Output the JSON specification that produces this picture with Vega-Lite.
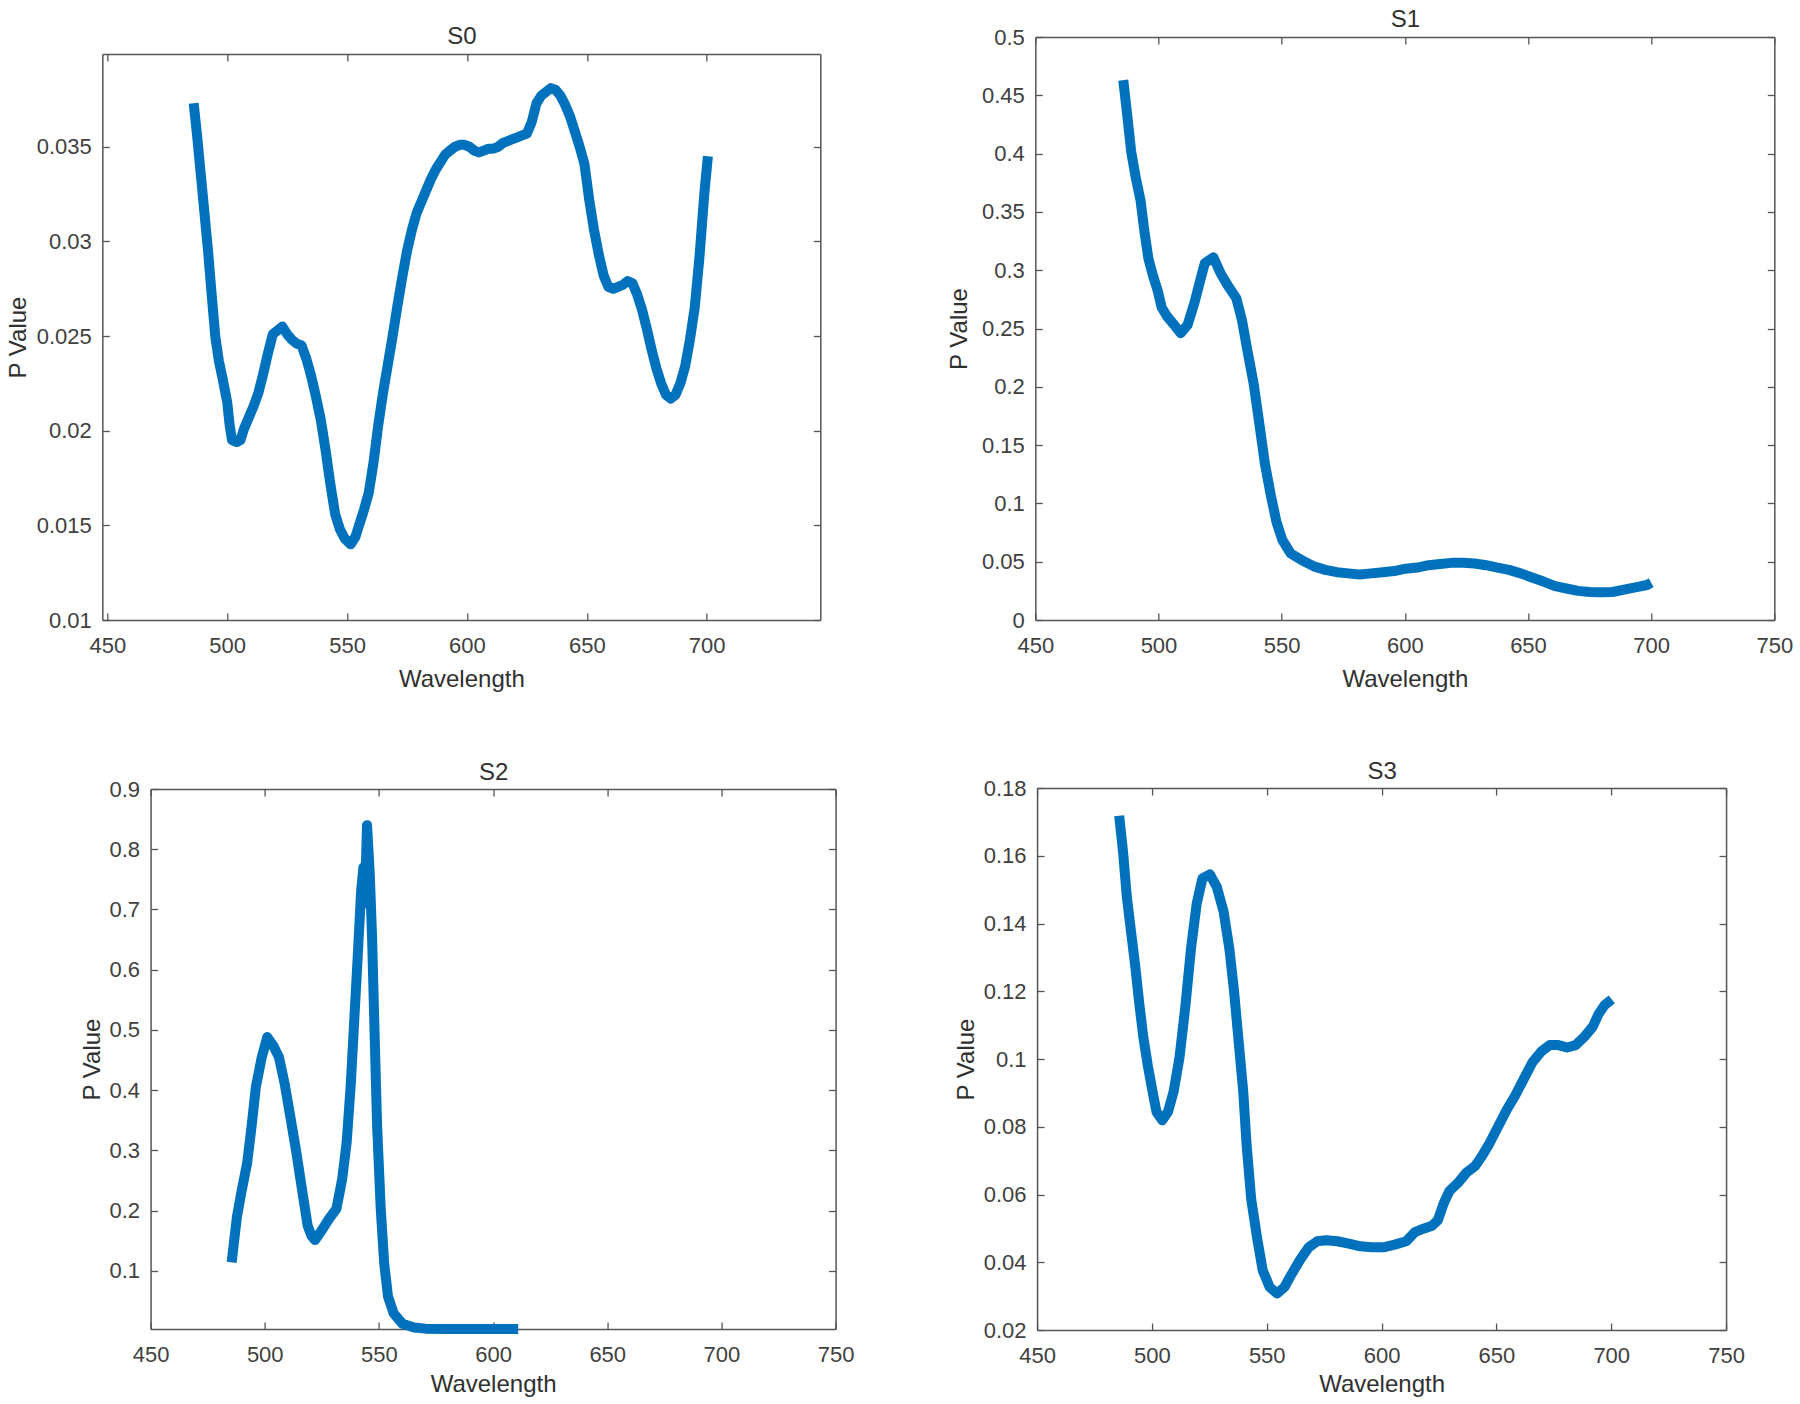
{
  "$schema": "https://vega.github.io/schema/vega-lite/v6.json",
  "padding": {"left": 0, "top": 5, "right": 0, "bottom": 0},
  "background": "white",
  "datasets": {
    "s0": [
      {"w":486,"p":0.0373},{"w":487.5,"p":0.0355},{"w":489,"p":0.0335},{"w":490.5,"p":0.0315},{"w":492,"p":0.0295},{"w":493.5,"p":0.0272},{"w":495,"p":0.025},{"w":496.5,"p":0.0237},{"w":498,"p":0.0228},{"w":500,"p":0.0215},{"w":501,"p":0.0203},{"w":502,"p":0.0195},{"w":504,"p":0.0194},{"w":505.5,"p":0.0195},{"w":507,"p":0.0201},{"w":509,"p":0.0207},{"w":511,"p":0.0213},{"w":513,"p":0.022},{"w":515,"p":0.023},{"w":517,"p":0.0241},{"w":519,"p":0.0251},{"w":521,"p":0.0253},{"w":523,"p":0.0255},{"w":525,"p":0.0251},{"w":527,"p":0.0248},{"w":529,"p":0.0246},{"w":531,"p":0.0245},{"w":533,"p":0.0238},{"w":535,"p":0.0229},{"w":537,"p":0.0218},{"w":539,"p":0.0206},{"w":541,"p":0.019},{"w":543,"p":0.0172},{"w":545,"p":0.0156},{"w":547,"p":0.0148},{"w":549,"p":0.0143},{"w":551.5,"p":0.014},{"w":553.5,"p":0.0144},{"w":555,"p":0.015},{"w":557,"p":0.0158},{"w":559,"p":0.0167},{"w":561,"p":0.0183},{"w":563,"p":0.0203},{"w":565,"p":0.022},{"w":567,"p":0.0235},{"w":569,"p":0.025},{"w":571,"p":0.0266},{"w":573,"p":0.0281},{"w":575,"p":0.0295},{"w":577,"p":0.0306},{"w":579,"p":0.0315},{"w":581,"p":0.0321},{"w":583,"p":0.0327},{"w":585,"p":0.0333},{"w":587,"p":0.0338},{"w":589,"p":0.0342},{"w":591,"p":0.0346},{"w":593,"p":0.0348},{"w":595,"p":0.035},{"w":597,"p":0.0351},{"w":599,"p":0.0351},{"w":601,"p":0.035},{"w":603,"p":0.0348},{"w":605,"p":0.0347},{"w":607,"p":0.0348},{"w":609,"p":0.0349},{"w":611,"p":0.0349},{"w":613,"p":0.035},{"w":615,"p":0.0352},{"w":617,"p":0.0353},{"w":619,"p":0.0354},{"w":621,"p":0.0355},{"w":623,"p":0.0356},{"w":625,"p":0.0357},{"w":627,"p":0.0363},{"w":629,"p":0.0373},{"w":631,"p":0.0377},{"w":633,"p":0.0379},{"w":635,"p":0.0381},{"w":637,"p":0.038},{"w":639,"p":0.0377},{"w":641,"p":0.0372},{"w":643,"p":0.0366},{"w":645,"p":0.0358},{"w":647,"p":0.035},{"w":649,"p":0.0341},{"w":651,"p":0.0322},{"w":653,"p":0.0306},{"w":655,"p":0.0293},{"w":657,"p":0.0282},{"w":659,"p":0.0276},{"w":661,"p":0.0275},{"w":663,"p":0.0276},{"w":665,"p":0.0277},{"w":667,"p":0.0279},{"w":669,"p":0.0278},{"w":671,"p":0.0272},{"w":673,"p":0.0264},{"w":675,"p":0.0254},{"w":677,"p":0.0243},{"w":679,"p":0.0233},{"w":681,"p":0.0225},{"w":683,"p":0.0219},{"w":685,"p":0.0217},{"w":687,"p":0.0219},{"w":689,"p":0.0225},{"w":691,"p":0.0234},{"w":693,"p":0.0248},{"w":695,"p":0.0265},{"w":697,"p":0.0292},{"w":699,"p":0.0325},{"w":700.5,"p":0.0345}
    ],
    "s1": [
      {"w":485.7,"p":0.463},{"w":487.3,"p":0.433},{"w":488.9,"p":0.402},{"w":490.8,"p":0.379},{"w":492.7,"p":0.36},{"w":494.3,"p":0.333},{"w":495.9,"p":0.31},{"w":497.8,"p":0.295},{"w":499.6,"p":0.283},{"w":501.3,"p":0.268},{"w":503.6,"p":0.26},{"w":506.4,"p":0.253},{"w":509,"p":0.246},{"w":511.8,"p":0.253},{"w":514.6,"p":0.272},{"w":516.9,"p":0.291},{"w":518.8,"p":0.306},{"w":522.3,"p":0.311},{"w":525.3,"p":0.297},{"w":528.1,"p":0.287},{"w":531.6,"p":0.276},{"w":533.9,"p":0.257},{"w":536.2,"p":0.23},{"w":538.6,"p":0.203},{"w":540.9,"p":0.169},{"w":543.2,"p":0.134},{"w":545.6,"p":0.107},{"w":547.9,"p":0.084},{"w":550.2,"p":0.069},{"w":553.7,"p":0.057},{"w":558.4,"p":0.051},{"w":563.1,"p":0.046},{"w":567.7,"p":0.043},{"w":572.4,"p":0.041},{"w":577,"p":0.04},{"w":581.7,"p":0.039},{"w":586.4,"p":0.04},{"w":591,"p":0.041},{"w":595.7,"p":0.042},{"w":600.3,"p":0.044},{"w":605,"p":0.045},{"w":609.7,"p":0.047},{"w":614.3,"p":0.048},{"w":619,"p":0.049},{"w":623.7,"p":0.049},{"w":628.3,"p":0.0485},{"w":633,"p":0.047},{"w":637.6,"p":0.045},{"w":642.3,"p":0.043},{"w":647,"p":0.04},{"w":651.6,"p":0.0365},{"w":656.3,"p":0.033},{"w":661,"p":0.029},{"w":665.6,"p":0.027},{"w":670.3,"p":0.025},{"w":675,"p":0.024},{"w":679.6,"p":0.0237},{"w":684.3,"p":0.024},{"w":689,"p":0.026},{"w":693.6,"p":0.028},{"w":698.3,"p":0.03},{"w":700,"p":0.032}
    ],
    "s2": [
      {"w":485.5,"p":0.114},{"w":487.8,"p":0.189},{"w":489.8,"p":0.231},{"w":492.3,"p":0.279},{"w":494.3,"p":0.342},{"w":496.1,"p":0.405},{"w":498.6,"p":0.453},{"w":501.1,"p":0.488},{"w":503.7,"p":0.474},{"w":506.2,"p":0.455},{"w":508.7,"p":0.411},{"w":511.2,"p":0.356},{"w":513.7,"p":0.3},{"w":516.2,"p":0.238},{"w":518.8,"p":0.175},{"w":520.5,"p":0.158},{"w":522,"p":0.151},{"w":525.1,"p":0.168},{"w":528.1,"p":0.186},{"w":531.4,"p":0.203},{"w":533.9,"p":0.252},{"w":535.9,"p":0.314},{"w":537.7,"p":0.411},{"w":539.2,"p":0.516},{"w":540.7,"p":0.62},{"w":542.2,"p":0.73},{"w":543.2,"p":0.77},{"w":543.8,"p":0.71},{"w":544.8,"p":0.84},{"w":546,"p":0.759},{"w":547,"p":0.655},{"w":548.2,"p":0.481},{"w":549.2,"p":0.342},{"w":550.8,"p":0.203},{"w":552.3,"p":0.113},{"w":554,"p":0.057},{"w":556.5,"p":0.029},{"w":560.3,"p":0.012},{"w":565.4,"p":0.006},{"w":570.4,"p":0.004},{"w":580,"p":0.0035},{"w":590,"p":0.0035},{"w":600,"p":0.0035},{"w":611,"p":0.0035}
    ],
    "s3": [
      {"w":485.75,"p":0.1718},{"w":487.5,"p":0.1607},{"w":489,"p":0.1484},{"w":490.75,"p":0.1385},{"w":492.75,"p":0.1274},{"w":494.5,"p":0.1164},{"w":496.25,"p":0.1065},{"w":498.25,"p":0.0979},{"w":500.25,"p":0.0905},{"w":502,"p":0.0844},{"w":504.5,"p":0.0819},{"w":507,"p":0.0844},{"w":509.5,"p":0.0905},{"w":512,"p":0.1004},{"w":514.5,"p":0.1151},{"w":517,"p":0.1324},{"w":519.5,"p":0.1459},{"w":522,"p":0.1533},{"w":525.25,"p":0.1545},{"w":528.25,"p":0.1508},{"w":531.25,"p":0.1434},{"w":533.75,"p":0.1324},{"w":535.75,"p":0.1201},{"w":537.75,"p":0.1053},{"w":539.75,"p":0.0905},{"w":541.25,"p":0.0745},{"w":543.25,"p":0.0585},{"w":545.75,"p":0.0474},{"w":548.25,"p":0.0376},{"w":551.25,"p":0.0327},{"w":554.5,"p":0.0308},{"w":557.75,"p":0.0327},{"w":560.75,"p":0.0364},{"w":564.5,"p":0.0407},{"w":568.25,"p":0.0444},{"w":572,"p":0.0462},{"w":575.75,"p":0.0465},{"w":580.75,"p":0.0462},{"w":585.75,"p":0.0455},{"w":590.75,"p":0.0447},{"w":595.75,"p":0.0444},{"w":600.75,"p":0.0444},{"w":605.75,"p":0.0452},{"w":610.75,"p":0.0462},{"w":614.5,"p":0.0489},{"w":618.25,"p":0.0499},{"w":622,"p":0.0508},{"w":624.5,"p":0.0524},{"w":627,"p":0.0573},{"w":629.5,"p":0.061},{"w":633.25,"p":0.0634},{"w":637,"p":0.0665},{"w":640.75,"p":0.0684},{"w":643.75,"p":0.0714},{"w":647,"p":0.0751},{"w":650.75,"p":0.0801},{"w":654.5,"p":0.085},{"w":658.25,"p":0.0893},{"w":662,"p":0.0942},{"w":665.75,"p":0.0991},{"w":669.5,"p":0.1022},{"w":673.25,"p":0.1041},{"w":677,"p":0.1041},{"w":680.75,"p":0.1034},{"w":684.5,"p":0.1041},{"w":688.25,"p":0.1065},{"w":692,"p":0.1096},{"w":694.5,"p":0.1133},{"w":697,"p":0.1158},{"w":700.25,"p":0.1176}
    ]
  },
  "center": true,
  "spacing": 44,
  "vconcat": [
    {
      "spacing": 119,
      "center": true,
      "hconcat": [
        {
          "width": 718, "height": 566,
          "data": {"name": "s0"},
          "layer": [
            {
              "mark": {"type": "line", "color": "#0072BD", "strokeWidth": 10, "strokeCap": "butt", "strokeJoin": "round"},
              "encoding": {
                "x": {"field": "w", "type": "quantitative", "scale": {"domain": [447.9, 747.4], "nice": false, "zero": false},
                  "axis": {"orient": "bottom", "values": [450, 500, 550, 600, 650, 700], "format": "d", "title": "Wavelength", "titleY": 66.5, "titleBaseline": "alphabetic", "minExtent": 75, "maxExtent": 75}},
                "y": {"field": "p", "type": "quantitative", "scale": {"domain": [0.01, 0.0399], "nice": false, "zero": false},
                  "axis": {"orient": "left", "values": [0.01, 0.015, 0.02, 0.025, 0.03, 0.035], "format": "~g", "title": "P Value", "titleX": -84.3, "titleBaseline": "middle", "minExtent": 101.7, "maxExtent": 101.7}}
              }
            },
            {
              "mark": {"type": "line", "opacity": 0},
              "encoding": {
                "x": {"field": "w", "type": "quantitative",
                  "axis": {"orient": "top", "values": [450, 500, 550, 600, 650, 700], "labels": false, "title": "S0", "titleY": -10.5, "titleBaseline": "alphabetic", "minExtent": 32, "maxExtent": 32}},
                "y": {"field": "p", "type": "quantitative",
                  "axis": {"orient": "right", "values": [0.01, 0.015, 0.02, 0.025, 0.03, 0.035], "labels": false, "title": null, "minExtent": 0, "maxExtent": 0}}
              }
            }
          ],
          "resolve": {"axis": {"x": "independent", "y": "independent"}}
        },
        {
          "width": 739, "height": 583,
          "data": {"name": "s1"},
          "layer": [
            {
              "mark": {"type": "line", "color": "#0072BD", "strokeWidth": 10, "strokeCap": "butt", "strokeJoin": "round"},
              "encoding": {
                "x": {"field": "w", "type": "quantitative", "scale": {"domain": [450, 750], "nice": false, "zero": false},
                  "axis": {"orient": "bottom", "values": [450, 500, 550, 600, 650, 700, 750], "format": "d", "title": "Wavelength", "titleY": 66.5, "titleBaseline": "alphabetic", "minExtent": 92, "maxExtent": 92}},
                "y": {"field": "p", "type": "quantitative", "scale": {"domain": [0, 0.5], "nice": false, "zero": false},
                  "axis": {"orient": "left", "values": [0, 0.05, 0.1, 0.15, 0.2, 0.25, 0.3, 0.35, 0.4, 0.45, 0.5], "format": "~g", "title": "P Value", "titleX": -75.9, "titleBaseline": "middle", "minExtent": 95, "maxExtent": 95}}
              }
            },
            {
              "mark": {"type": "line", "opacity": 0},
              "encoding": {
                "x": {"field": "w", "type": "quantitative",
                  "axis": {"orient": "top", "values": [450, 500, 550, 600, 650, 700, 750], "labels": false, "title": "S1", "titleY": -10.9, "titleBaseline": "alphabetic", "minExtent": 32, "maxExtent": 32}},
                "y": {"field": "p", "type": "quantitative",
                  "axis": {"orient": "right", "values": [0, 0.05, 0.1, 0.15, 0.2, 0.25, 0.3, 0.35, 0.4, 0.45, 0.5], "labels": false, "title": null, "minExtent": 0, "maxExtent": 0}}
              }
            }
          ],
          "resolve": {"axis": {"x": "independent", "y": "independent"}}
        }
      ]
    },
    {
      "spacing": 92.5,
      "center": true,
      "hconcat": [
        {
          "width": 685, "height": 540,
          "data": {"name": "s2"},
          "layer": [
            {
              "mark": {"type": "line", "color": "#0072BD", "strokeWidth": 10, "strokeCap": "butt", "strokeJoin": "round"},
              "encoding": {
                "x": {"field": "w", "type": "quantitative", "scale": {"domain": [450, 750], "nice": false, "zero": false},
                  "axis": {"orient": "bottom", "values": [450, 500, 550, 600, 650, 700, 750], "format": "d", "title": "Wavelength", "titleY": 62, "titleBaseline": "alphabetic", "minExtent": 75, "maxExtent": 75}},
                "y": {"field": "p", "type": "quantitative", "scale": {"domain": [0.0034, 0.9], "nice": false, "zero": false},
                  "axis": {"orient": "left", "values": [0.1, 0.2, 0.3, 0.4, 0.5, 0.6, 0.7, 0.8, 0.9], "format": "~g", "title": "P Value", "titleX": -58.1, "titleBaseline": "middle", "minExtent": 100, "maxExtent": 100}}
              }
            },
            {
              "mark": {"type": "line", "opacity": 0},
              "encoding": {
                "x": {"field": "w", "type": "quantitative",
                  "axis": {"orient": "top", "values": [450, 500, 550, 600, 650, 700, 750], "labels": false, "title": "S2", "titleY": -9.2, "titleBaseline": "alphabetic", "minExtent": 33, "maxExtent": 33}},
                "y": {"field": "p", "type": "quantitative",
                  "axis": {"orient": "right", "values": [0.1, 0.2, 0.3, 0.4, 0.5, 0.6, 0.7, 0.8, 0.9], "labels": false, "title": null, "minExtent": 0, "maxExtent": 0}}
              }
            }
          ],
          "resolve": {"axis": {"x": "independent", "y": "independent"}}
        },
        {
          "width": 689, "height": 542,
          "data": {"name": "s3"},
          "layer": [
            {
              "mark": {"type": "line", "color": "#0072BD", "strokeWidth": 10, "strokeCap": "butt", "strokeJoin": "round"},
              "encoding": {
                "x": {"field": "w", "type": "quantitative", "scale": {"domain": [450, 750], "nice": false, "zero": false},
                  "axis": {"orient": "bottom", "values": [450, 500, 550, 600, 650, 700, 750], "format": "d", "title": "Wavelength", "titleY": 61.6, "titleBaseline": "alphabetic", "minExtent": 75, "maxExtent": 75}},
                "y": {"field": "p", "type": "quantitative", "scale": {"domain": [0.02, 0.18], "nice": false, "zero": false},
                  "axis": {"orient": "left", "values": [0.02, 0.04, 0.06, 0.08, 0.1, 0.12, 0.14, 0.16, 0.18], "format": "~g", "title": "P Value", "titleX": -70.6, "titleBaseline": "middle", "minExtent": 90, "maxExtent": 90}}
              }
            },
            {
              "mark": {"type": "line", "opacity": 0},
              "encoding": {
                "x": {"field": "w", "type": "quantitative",
                  "axis": {"orient": "top", "values": [450, 500, 550, 600, 650, 700, 750], "labels": false, "title": "S3", "titleY": -9.4, "titleBaseline": "alphabetic", "minExtent": 32, "maxExtent": 32}},
                "y": {"field": "p", "type": "quantitative",
                  "axis": {"orient": "right", "values": [0.02, 0.04, 0.06, 0.08, 0.1, 0.12, 0.14, 0.16, 0.18], "labels": false, "title": null, "minExtent": 0, "maxExtent": 0}}
              }
            }
          ],
          "resolve": {"axis": {"x": "independent", "y": "independent"}}
        }
      ]
    }
  ],
  "config": {
    "view": {"stroke": null},
    "axis": {
      "domainColor": "#555555", "domainWidth": 1.5,
      "tickColor": "#555555", "tickWidth": 1.3, "tickSize": -7,
      "labelFont": "Liberation Sans", "labelFontSize": 22, "labelColor": "#404040",
      "titleFont": "Liberation Sans", "titleFontSize": 24, "titleFontWeight": "normal", "titleColor": "#303030",
      "grid": false, "labelFlush": false, "labelOverlap": false
    },
    "axisX": {"labelPadding": 22},
    "axisY": {"labelPadding": 18}
  }
}
